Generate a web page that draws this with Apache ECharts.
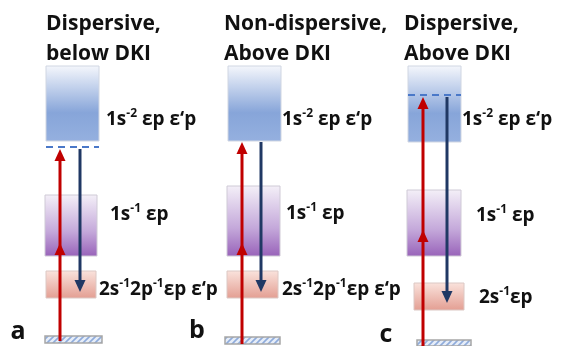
<!DOCTYPE html>
<html><head><meta charset="utf-8">
<script src="https://cdn.jsdelivr.net/npm/echarts@6/dist/echarts.min.js"></script>
<style>html,body{margin:0;padding:0;background:#fff}#c{width:562px;height:346px}</style>
</head><body><div id="c"></div>
<script>
// ---- data (diagram units: x to the right, y downward) ----
const panelLetters = ['a', 'b', 'c'];
const letterPos = [[18, 332], [197, 331], [386, 335]];
const panelTitles = ['Dispersive,\nbelow DKI', 'Non-dispersive,\nAbove DKI', 'Dispersive,\nAbove DKI'];
const titlePos = [[46, 9], [224, 9], [404, 9]];
// level boxes [x0, y0, x1, y1]
const doubleCoreBox = [[46, 66, 99, 141], [228, 66, 281, 141], [408, 66, 461, 142]];
const singleCoreBox = [[45, 195, 97, 256], [227, 186, 280, 256], [407, 190, 461, 256]];
const valenceBox = [[46, 271, 96, 298], [227, 271, 278, 298], [414, 283, 464, 310]];
const groundBox = [[45, 336, 102, 343], [225, 337, 280, 344], [417, 340, 471, 346]];
// dashed resonance levels [x0, x1, y]
const dashedLevels = [[46, 99, 147], [408, 461, 95]];
// absorption (red) arrows: [x, yBottom, yMid, yTop]
const pumpArrows = [[60, 341, 243, 149], [242, 344, 243, 142], [423, 346, 230, 97]];
// emission (navy) arrows: [x, yTop, yBottom]
const emitArrows = [[80, 149, 292], [261, 142, 292], [447, 97, 303]];
// state labels
const stateLabels = [
  '1s{sup|-2} εp ε‘p', '1s{sup|-1} εp', '2s{sup|-1}2p{sup|-1}εp ε‘p',
  '1s{sup|-2} εp ε‘p', '1s{sup|-1} εp', '2s{sup|-1}2p{sup|-1}εp ε‘p',
  '1s{sup|-2} εp ε‘p', '1s{sup|-1} εp', '2s{sup|-1}εp'
];
const stateLabelPos = [
  [106, 120], [110, 215], [99, 290],
  [282, 120], [286, 214], [282, 290],
  [462, 120], [476, 216], [479, 298]
];

// ---- styles ----
const FONT = '"Open Sans", "Noto Sans", sans-serif';
const gBlue = new echarts.graphic.LinearGradient(0, 0, 0, 1, [
  {offset: 0, color: '#f5f7fc'}, {offset: 0.62, color: '#87a5d9'}, {offset: 1, color: '#95b0df'}]);
const gPurple = new echarts.graphic.LinearGradient(0, 0, 0, 1, [
  {offset: 0, color: '#f4f0f8'}, {offset: 0.6, color: '#c4a8da'}, {offset: 1, color: '#9862b9'}]);
const gPink = new echarts.graphic.LinearGradient(0, 0, 0, 1, [
  {offset: 0, color: '#fae3dd'}, {offset: 1, color: '#e39e92'}]);
const hatch = (function () {
  const cv = document.createElement('canvas'); cv.width = 6; cv.height = 6;
  const ctx = cv.getContext('2d');
  ctx.fillStyle = '#e6edf8'; ctx.fillRect(0, 0, 6, 6);
  ctx.strokeStyle = '#8eabdb'; ctx.lineWidth = 1.6;
  ctx.beginPath(); ctx.moveTo(0, 6); ctx.lineTo(6, 0); ctx.moveTo(-3, 3); ctx.lineTo(3, -3); ctx.moveTo(3, 9); ctx.lineTo(9, 3); ctx.stroke();
  return {image: cv, repeat: 'repeat'};
})();

const boxData = [];
doubleCoreBox.forEach(b => boxData.push(b.concat([0])));
singleCoreBox.forEach(b => boxData.push(b.concat([1])));
valenceBox.forEach(b => boxData.push(b.concat([2])));
groundBox.forEach(b => boxData.push(b.concat([3])));
const boxFills = [gBlue, gPurple, gPink, hatch];
const boxStrokes = ['#d0d6e2', '#cfcad6', '#dcc8c4', '#a6a6a6'];
const boxLineW = [1, 1, 1, 1.5];

function arrowHead(tip, dir) { // dir: -1 up, +1 down
  const w = 5.5, h = 12;
  return [[tip[0], tip[1]], [tip[0] - w, tip[1] - dir * h], [tip[0] + w, tip[1] - dir * h]];
}

const option = {
  animation: false,
  grid: {left: 0, right: 0, top: 0, bottom: 0},
  xAxis: {type: 'value', min: 0, max: 562, show: false},
  yAxis: {type: 'value', min: 0, max: 346, inverse: true, show: false},
  series: [
    { // level boxes
      type: 'custom', silent: true, data: boxData,
      renderItem: function (params, api) {
        const p0 = api.coord([api.value(0), api.value(1)]);
        const p1 = api.coord([api.value(2), api.value(3)]);
        const k = api.value(4);
        return {type: 'rect', shape: {x: p0[0], y: p0[1], width: p1[0] - p0[0], height: p1[1] - p0[1]},
          style: {fill: boxFills[k], stroke: boxStrokes[k], lineWidth: boxLineW[k]}};
      }
    },
    { // dashed levels
      type: 'custom', silent: true, data: dashedLevels,
      renderItem: function (params, api) {
        const p0 = api.coord([api.value(0), api.value(2)]);
        const p1 = api.coord([api.value(1), api.value(2)]);
        return {type: 'line', shape: {x1: p0[0], y1: p0[1], x2: p1[0], y2: p1[1]},
          style: {stroke: '#4a78c8', lineWidth: 2, lineDash: [7, 5]}};
      }
    },
    { // absorption arrows
      type: 'custom', silent: true, data: pumpArrows, z: 3,
      renderItem: function (params, api) {
        const b = api.coord([api.value(0), api.value(1)]);
        const m = api.coord([api.value(0), api.value(2)]);
        const t = api.coord([api.value(0), api.value(3)]);
        const c = '#c00000';
        return {type: 'group', children: [
          {type: 'line', shape: {x1: b[0], y1: b[1], x2: t[0], y2: t[1] + 8}, style: {stroke: c, lineWidth: 3}},
          {type: 'polygon', shape: {points: arrowHead(t, -1)}, style: {fill: c}},
          {type: 'polygon', shape: {points: arrowHead(m, -1)}, style: {fill: c}}
        ]};
      }
    },
    { // emission arrows
      type: 'custom', silent: true, data: emitArrows, z: 3,
      renderItem: function (params, api) {
        const t = api.coord([api.value(0), api.value(1)]);
        const b = api.coord([api.value(0), api.value(2)]);
        const c = '#203864';
        return {type: 'group', children: [
          {type: 'line', shape: {x1: t[0], y1: t[1], x2: b[0], y2: b[1] - 8}, style: {stroke: c, lineWidth: 3}},
          {type: 'polygon', shape: {points: arrowHead(b, 1)}, style: {fill: c}}
        ]};
      }
    },
    { // state labels
      type: 'custom', silent: true, data: stateLabelPos.map((p, i) => [p[0], p[1], i]),
      renderItem: function (params, api) {
        const p = api.coord([api.value(0), api.value(1)]);
        return {type: 'text', style: {
          text: stateLabels[api.value(2)], x: p[0], y: p[1], textAlign: 'left', textVerticalAlign: 'middle',
          fill: '#111', fontFamily: FONT, fontWeight: 'bold', fontSize: 19, lineHeight: 24,
          rich: {sup: {fontSize: 12, fontWeight: 'bold', fontFamily: FONT, fill: '#111', verticalAlign: 'top', lineHeight: 13}}
        }};
      }
    },
    { // panel titles
      type: 'custom', silent: true, data: titlePos.map((p, i) => [p[0], p[1], i]),
      renderItem: function (params, api) {
        const p = api.coord([api.value(0), api.value(1)]);
        return {type: 'text', style: {
          text: panelTitles[api.value(2)], x: p[0], y: p[1], textAlign: 'left', textVerticalAlign: 'top',
          fill: '#111', fontFamily: FONT, fontWeight: 'bold', fontSize: 21, lineHeight: 30
        }};
      }
    },
    { // panel letters
      type: 'custom', silent: true, data: letterPos.map((p, i) => [p[0], p[1], i]),
      renderItem: function (params, api) {
        const p = api.coord([api.value(0), api.value(1)]);
        return {type: 'text', style: {
          text: panelLetters[api.value(2)], x: p[0], y: p[1], textAlign: 'center', textVerticalAlign: 'middle',
          fill: '#111', fontFamily: FONT, fontWeight: 'bold', fontSize: 25
        }};
      }
    }
  ]
};
echarts.init(document.getElementById('c'), null, {renderer: 'canvas'}).setOption(option);
</script></body></html>
